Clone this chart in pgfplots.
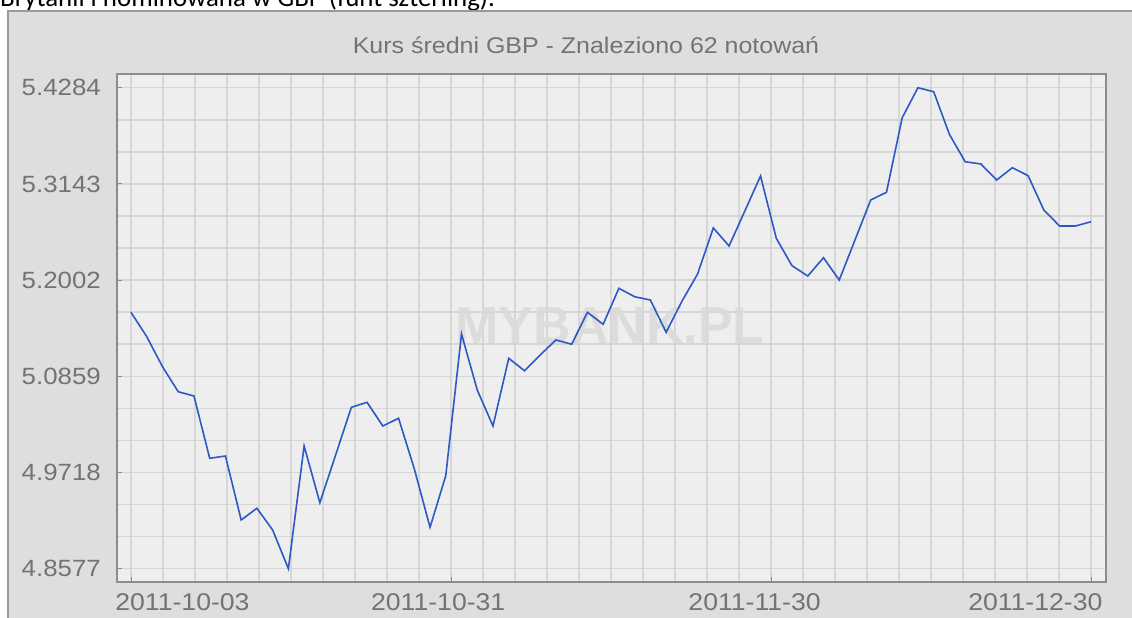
\documentclass[border=0pt]{standalone}
\usepackage{fontspec}
\setmainfont{Liberation Sans}[FakeStretch=1.1]
\newfontfamily\topfont{Carlito}
\newfontfamily\wmfont{Liberation Sans}
\usepackage{pgfplots}
\pgfplotsset{compat=1.18}
\definecolor{panelbg}{HTML}{DEDEDE}
\definecolor{panelborder}{HTML}{9A9A9A}
\definecolor{plotbg}{HTML}{EEEEEE}
\definecolor{gridgray}{HTML}{D6D6D6}
\definecolor{axisgray}{HTML}{8C8C8C}
\definecolor{labelgray}{HTML}{737373}
\definecolor{linecol}{HTML}{2E58C4}
\definecolor{wmgray}{HTML}{DADADA}
\begin{document}
\begin{tikzpicture}
\useasboundingbox (0,0) rectangle (1132pt,618pt);
\clip (0,0) rectangle (1132pt,618pt);
\fill[white] (0,0) rectangle (1132pt,618pt);
\node[anchor=base west, inner sep=0pt, font=\topfont\fontsize{26.9}{30}\selectfont] at (0pt,611pt) {Brytanii i nominowana w GBP (funt szterling).};
\filldraw[fill=panelbg, draw=panelborder, line width=1.5pt] (8pt,607pt) rectangle (1150pt,-20pt);
\node[anchor=base, inner sep=0pt, text=labelgray, font=\fontsize{22.7}{25}\selectfont] at (586pt,564pt) {Kurs średni GBP - Znaleziono 62 notowań};
\begin{axis}[
  at={(117pt,36pt)}, anchor=south west,
  width=989pt, height=508pt, scale only axis,
  xmin=-0.89, xmax=61.95, ymin=4.8419, ymax=5.4447,
  axis background/.style={fill=plotbg},
  axis line style={draw=axisgray, line width=1.6pt},
  grid=both,
  major grid style={draw=gridgray, line width=1.5pt},
  minor grid style={draw=gridgray, line width=1.5pt},
  xtick={0,20.3333,40.6667,61}, xticklabels={,,,},
  minor xtick={2.0333,4.0667,6.1,8.1333,10.1667,12.2,14.2333,16.2667,18.3,22.3667,24.4,26.4333,28.4667,30.5,32.5333,34.5667,36.6,38.6333,42.7,44.7333,46.7667,48.8,50.8333,52.8667,54.9,56.9333,58.9667},
  ytick={4.8577,4.97184,5.08598,5.20012,5.31426,5.4284},
  yticklabels={4.8577,4.9718,5.0859,5.2002,5.3143,5.4284},
  minor ytick={4.89575,4.93379,5.00989,5.04793,5.12403,5.16207,5.23817,5.27621,5.35231,5.39035},
  tick align=inside, major tick length=5pt, minor tick length=0pt,
  xtick pos=left, ytick pos=left,
  every tick/.style={draw=axisgray, line width=1pt},
  tick label style={text=labelgray, font=\fontsize{24.2}{25}\selectfont},
  yticklabel style={anchor=east, inner sep=0pt, xshift=-16pt, font=\fontsize{23.5}{25}\selectfont},
  xticklabel style={anchor=north, inner sep=0pt, yshift=-11pt},
  extra x ticks={3.27,19.52,39.62,57.46},
  extra x tick labels={2011-10-03,2011-10-31,2011-11-30,2011-12-30},
  extra x tick style={major tick length=0pt, grid=none},
]
\node[font=\wmfont\bfseries\fontsize{52}{52}\selectfont, text=wmgray, opacity=0.85] at (rel axis cs:0.4985,0.504) {MYBANK.PL};
\addplot[linecol, line width=1.6pt, mark=none] coordinates {
(0,5.1619) (1,5.1330) (2,5.0974) (3,5.0677) (4,5.0626) (5,4.9887) (6,4.9914) (7,4.9155)
(8,4.9294) (9,4.9036) (10,4.8577) (11,5.0033) (12,4.9360) (13,4.9925) (14,5.0492) (15,5.0551)
(16,5.0270) (17,5.0362) (18,4.9762) (19,4.9068) (20,4.9680) (21,5.1362) (22,5.0697) (23,5.0270)
(24,5.1073) (25,5.0926) (26,5.1113) (27,5.1291) (28,5.1240) (29,5.1619) (30,5.1477) (31,5.1904)
(32,5.1804) (33,5.1765) (34,5.1382) (35,5.1749) (36,5.2074) (37,5.2620) (38,5.2406) (39,5.2821)
(40,5.3237) (41,5.2497) (42,5.2172) (43,5.2050) (44,5.2267) (45,5.2002) (46,5.2477) (47,5.2952)
(48,5.3043) (49,5.3928) (50,5.4284) (51,5.4237) (52,5.3731) (53,5.3406) (54,5.3379) (55,5.3189)
(56,5.3335) (57,5.3240) (58,5.2833) (59,5.2643) (60,5.2643) (61,5.2694)
};
\end{axis}
\end{tikzpicture}
\end{document}
